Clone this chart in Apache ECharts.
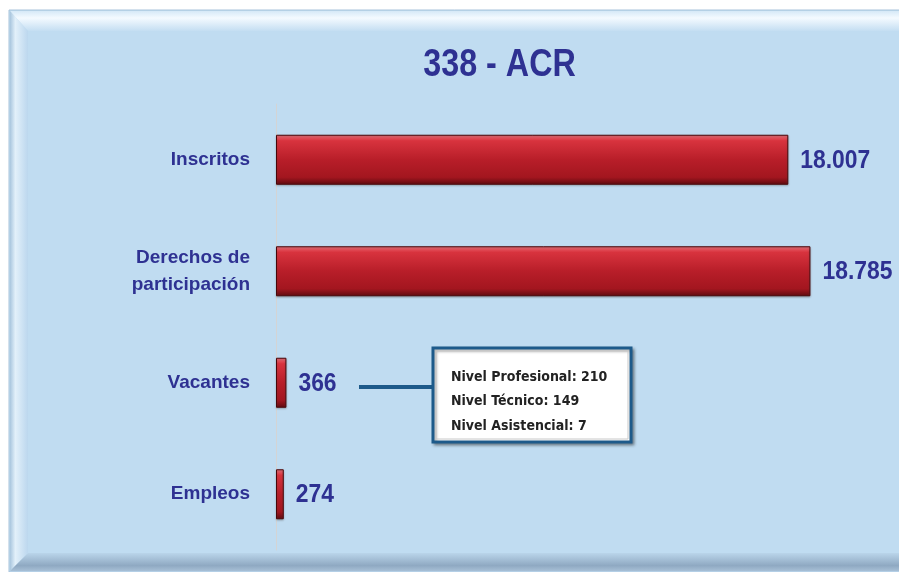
<!DOCTYPE html>
<html>
<head>
<meta charset="utf-8">
<title>338 - ACR</title>
<script src="https://cdn.jsdelivr.net/npm/echarts@6/dist/echarts.min.js"></script>
<style>
  html, body { margin: 0; padding: 0; background: #ffffff; }
  #chart { width: 899px; height: 572px; }
</style>
</head>
<body>
<div id="chart"></div>
<script>
// data
var categories = ['Inscritos', 'Derechos de\nparticipación', 'Vacantes', 'Empleos'];
var values = [18007, 18785, 366, 274];
var valueLabels = ['18.007', '18.785', '366', '274'];
var vacantesDetail = ['Nivel Profesional: 210', 'Nivel Técnico: 149', 'Nivel Asistencial: 7'];

// Arial Narrow is not around, so squeeze Liberation Sans a bit
var sans = "'Liberation Sans', Arial, sans-serif";
var blue = '#2e3192';

var chart = echarts.init(document.getElementById('chart'));

var barGradient = new echarts.graphic.LinearGradient(0, 0, 0, 1, [
  { offset: 0, color: '#f0707a' },
  { offset: 0.12, color: '#d8333e' },
  { offset: 0.5, color: '#b81e29' },
  { offset: 0.85, color: '#a3161f' },
  { offset: 1, color: '#5e0a0f' }
]);

var option = {
  backgroundColor: '#ffffff',
  animation: false,
  graphic: [
    // panel
    { type: 'rect', z: -10, shape: { x: 9, y: 10, width: 892, height: 562 },
      style: { fill: '#c0dcf1', stroke: '#a8c3da', lineWidth: 1 } },
    { type: 'polygon', z: -9, shape: { points: [[10, 11], [899, 11], [899, 31], [28, 31]] },
      style: { fill: new echarts.graphic.LinearGradient(0, 0, 0, 1, [
        { offset: 0, color: '#d6e9f7' }, { offset: 0.35, color: '#f4faff' },
        { offset: 1, color: '#c4def2' }]) } },
    { type: 'polygon', z: -9, shape: { points: [[10, 11], [28, 31], [28, 553], [10, 571]] },
      style: { fill: new echarts.graphic.LinearGradient(0, 0, 1, 0, [
        { offset: 0, color: '#a9c6de' }, { offset: 0.3, color: '#e2f0fa' },
        { offset: 1, color: '#bcd7ee' }]) } },
    { type: 'polygon', z: -9, shape: { points: [[10, 571], [28, 553], [899, 553], [899, 571]] },
      style: { fill: new echarts.graphic.LinearGradient(0, 0, 0, 1, [
        { offset: 0, color: '#bad5ea' }, { offset: 0.7, color: '#8fa9c2' },
        { offset: 1, color: '#a7bfd6' }]) } },
    // title
    { type: 'text', z: 5, x: 499.5, y: 66, scaleX: 0.85,
      style: { text: '338 - ACR', font: 'bold 38px ' + sans, fill: blue,
        align: 'center', verticalAlign: 'middle' } },
    // connector to the detail box
    { type: 'line', z: 5, shape: { x1: 359, y1: 387, x2: 433, y2: 387 },
      style: { stroke: '#1d5a8a', lineWidth: 4 } },
    // detail box
    { type: 'rect', z: 5, shape: { x: 433, y: 348, width: 198, height: 94 },
      style: { fill: '#ffffff', stroke: '#1d5a8a', lineWidth: 3,
        shadowBlur: 3, shadowColor: 'rgba(0,0,0,0.35)', shadowOffsetX: 2, shadowOffsetY: 2 } },
    { type: 'rect', z: 6, shape: { x: 436, y: 351, width: 192, height: 88 },
      style: { fill: 'none', stroke: '#c8c8c8', lineWidth: 1 } },
    { type: 'text', z: 7, x: 451, y: 365,
      style: { text: vacantesDetail.join('\n'), fill: '#222222', lineHeight: 24.5,
        font: "bold 14px 'DejaVu Sans Condensed', sans-serif" } }
  ],
  grid: { left: 276, right: 54, top: 104, bottom: 22 },
  xAxis: {
    type: 'value', min: 0, max: 20000,
    show: false, splitLine: { show: false }
  },
  yAxis: {
    type: 'category',
    inverse: true,
    data: categories,
    axisTick: { show: false },
    axisLine: { show: true, lineStyle: { color: '#d4d4d4', width: 1 } },
    axisLabel: {
      margin: 26, fontFamily: sans, fontSize: 19,
      fontWeight: 'bold', color: blue, lineHeight: 27, align: 'right'
    }
  },
  series: [{
    type: 'bar',
    data: values,
    barWidth: 50,
    itemStyle: {
      color: barGradient,
      borderColor: '#4a0609',
      borderWidth: 1,
      shadowBlur: 2, shadowColor: 'rgba(80,80,80,0.4)', shadowOffsetY: 1
    }
  }, {
    // value labels, narrowed
    type: 'custom',
    data: values.map(function (v, i) { return [v, i]; }),
    encode: { x: 0, y: 1 },
    z: 4,
    renderItem: function (params, api) {
      var pt = api.coord([api.value(0), api.value(1)]);
      return {
        type: 'text',
        x: pt[0] + 12,
        y: pt[1] + 1,
        scaleX: 0.88,
        style: {
          text: valueLabels[params.dataIndex],
          font: 'bold 26px ' + sans,
          fill: blue,
          align: 'left',
          verticalAlign: 'middle'
        }
      };
    }
  }]
};

chart.setOption(option);
</script>
</body>
</html>
